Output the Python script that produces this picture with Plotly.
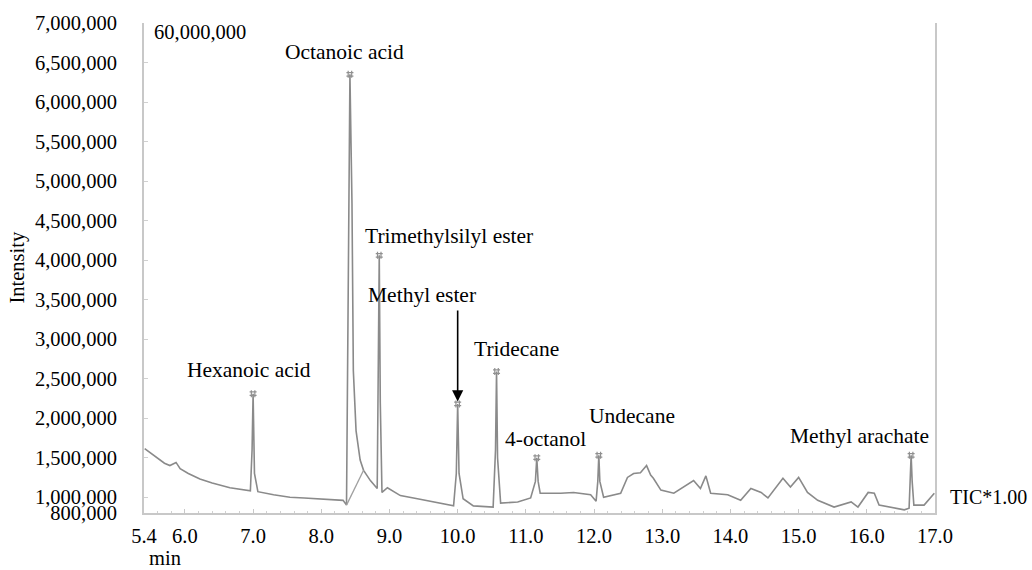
import plotly.graph_objects as go

# ---- data ----
time_min = [5.41, 5.50, 5.60, 5.70, 5.78, 5.87, 5.93, 6.05, 6.22, 6.40, 6.66, 6.85, 6.96, 6.985, 7.00, 7.02, 7.07,
            7.30, 7.54, 7.75, 7.98, 8.15, 8.32, 8.37, 8.40, 8.42, 8.45, 8.47, 8.51, 8.57, 8.62, 8.72, 8.82, 8.835, 8.85,
            8.865, 8.89, 8.97, 9.16, 9.41, 9.64, 9.94, 9.98, 10.00, 10.02, 10.08, 10.23, 10.44, 10.52, 10.555, 10.57,
            10.585, 10.63, 10.88, 11.07, 11.14, 11.16, 11.18, 11.21, 11.51, 11.70, 11.95, 12.03, 12.055, 12.07, 12.085,
            12.14, 12.39, 12.49, 12.58, 12.68, 12.77, 12.83, 12.87, 12.98, 13.17, 13.31, 13.46, 13.56, 13.64, 13.71,
            13.96, 14.15, 14.30, 14.45, 14.55, 14.77, 14.88, 15.00, 15.13, 15.28, 15.52, 15.77, 15.87, 16.02, 16.11,
            16.18, 16.35, 16.55, 16.62, 16.635, 16.65, 16.665, 16.69, 16.84, 16.99]
intensity = [1.615e6, 1.56e6, 1.49e6, 1.43e6, 1.40e6, 1.44e6, 1.36e6, 1.30e6, 1.23e6, 1.18e6, 1.12e6, 1.10e6, 1.08e6,
             1.6e6, 2.31e6, 1.3e6, 1.07e6,
             1.03e6, 1.00e6, 0.99e6, 0.975e6, 0.97e6, 0.96e6, 0.90e6, 5.0e6, 6.35e6, 4.72e6, 2.60e6, 1.84e6, 1.47e6,
             1.34e6, 1.21e6, 1.11e6, 2.5e6, 4.06e6,
             2.2e6, 1.06e6, 1.12e6, 1.02e6, 0.98e6, 0.94e6, 0.89e6, 1.3e6, 2.18e6, 1.3e6, 0.98e6, 0.89e6, 0.875e6,
             0.875e6, 1.6e6, 2.59e6,
             1.5e6, 0.925e6, 0.94e6, 0.99e6, 1.2e6, 1.50e6, 1.2e6, 1.05e6, 1.05e6, 1.06e6, 1.03e6, 0.95e6, 1.2e6,
             1.53e6, 1.2e6,
             1.00e6, 1.05e6, 1.25e6, 1.30e6, 1.31e6, 1.40e6, 1.28e6, 1.24e6, 1.09e6, 1.05e6, 1.13e6, 1.21e6, 1.11e6,
             1.27e6, 1.05e6,
             1.03e6, 0.96e6, 1.11e6, 1.06e6, 0.99e6, 1.24e6, 1.13e6, 1.25e6, 1.06e6, 0.96e6, 0.875e6, 0.94e6, 0.875e6,
             1.06e6, 1.05e6,
             0.90e6, 0.875e6, 0.84e6, 0.86e6, 1.2e6, 1.53e6, 1.2e6, 0.90e6, 0.90e6, 1.05e6]

# integration baseline drawn under the octanoic acid tail
ramp_time = [8.37, 8.62]
ramp_intensity = [0.90e6, 1.34e6]

# peak apex positions
apex_time = [7.00, 8.42, 8.85, 10.00, 10.57, 11.16, 12.07, 16.65]
apex_intensity = [2.31e6, 6.35e6, 4.06e6, 2.18e6, 2.59e6, 1.50e6, 1.53e6, 1.53e6]

# peak labels
label_text = ["Hexanoic acid", "Octanoic acid", "Trimethylsilyl ester", "Methyl ester", "Tridecane",
              "4-octanol", "Undecane", "Methyl arachate"]
label_time = [6.00, 8.34, 8.61, 8.65, 10.21, 10.66, 11.90, 14.84]
label_intensity = [2.605e6, 6.63e6, 4.31e6, 3.557e6, 2.87e6, 1.74e6, 2.03e6, 1.777e6]
label_anchor = ["left", "center", "left", "left", "left", "left", "left", "left"]

# arrow pointing to methyl ester
arrow_time = 10.00
arrow_from = 3.38e6
arrow_to = 2.21e6

# axes
x_tickvals = [5.4, 6.0, 7.0, 8.0, 9.0, 10.0, 11.0, 12.0, 13.0, 14.0, 15.0, 16.0, 17.0]
x_ticktext = ["5.4", "6.0", "7.0", "8.0", "9.0", "10.0", "11.0", "12.0", "13.0", "14.0", "15.0", "16.0", "17.0"]
y_tickvals = [800000, 1000000, 1500000, 2000000, 2500000, 3000000, 3500000, 4000000, 4500000, 5000000,
              5500000, 6000000, 6500000, 7000000]
y_ticktext = ["800,000", "1,000,000", "1,500,000", "2,000,000", "2,500,000", "3,000,000", "3,500,000",
              "4,000,000", "4,500,000", "5,000,000", "5,500,000", "6,000,000", "6,500,000", "7,000,000"]

FONT = "Liberation Serif, Times New Roman, serif"
GRAY = "#8a8a8a"
LABEL_SIZE = 21.5
TICK_SIZE = 20.5

fig = go.Figure()
fig.add_trace(go.Scatter(x=time_min, y=intensity, mode="lines",
                         line=dict(color=GRAY, width=1.6), hoverinfo="skip"))
fig.add_trace(go.Scatter(x=ramp_time, y=ramp_intensity, mode="lines",
                         line=dict(color="#a0a0a0", width=1.3), hoverinfo="skip"))
fig.add_trace(go.Scatter(x=apex_time, y=apex_intensity, mode="markers",
                         marker=dict(symbol="hash-open", size=7, color="#909090",
                                     line=dict(color="#909090", width=1.2)),
                         hoverinfo="skip"))

for txt, tx, ty, anc in zip(label_text, label_time, label_intensity, label_anchor):
    fig.add_annotation(x=tx, y=ty, text=txt, showarrow=False, xanchor=anc, yanchor="middle",
                       font=dict(family=FONT, size=LABEL_SIZE, color="black"))

fig.add_annotation(x=arrow_time, y=arrow_to, ax=arrow_time, ay=arrow_from, axref="x", ayref="y",
                   text="", showarrow=True, arrowhead=2, arrowsize=1.4, arrowwidth=1.6,
                   arrowcolor="black")

fig.add_annotation(x=5.52, y=6.89e6, text="60,000,000", showarrow=False, xanchor="left", yanchor="middle",
                   font=dict(family=FONT, size=TICK_SIZE, color="black"))
fig.add_annotation(xref="paper", yref="paper", x=(948 - 144) / 791, y=(513 - 497) / 495,
                   text="TIC*1.00", showarrow=False, xanchor="left", yanchor="middle",
                   font=dict(family=FONT, size=20, color="black"))
fig.add_annotation(xref="paper", yref="paper", x=(165 - 144) / 791, y=-(558 - 513) / 495,
                   text="min", showarrow=False, xanchor="center", yanchor="middle",
                   font=dict(family=FONT, size=TICK_SIZE, color="black"))
fig.add_annotation(xref="paper", yref="paper", x=(18 - 144) / 791, y=(513 - 265) / 495,
                   text="Intensity", showarrow=False, xanchor="center", yanchor="middle", textangle=-90,
                   font=dict(family=FONT, size=TICK_SIZE, color="black"))

fig.update_layout(
    width=1032, height=570,
    margin=dict(l=144, r=97, t=18, b=57),
    paper_bgcolor="white", plot_bgcolor="white",
    showlegend=False,
    font=dict(family=FONT, size=TICK_SIZE, color="black"),
)
fig.update_xaxes(range=[5.4, 17.0], tickvals=x_tickvals, ticktext=x_ticktext,
                 showgrid=False, zeroline=False, showline=True, linecolor="#c8c8c8", linewidth=2,
                 ticks="inside", ticklen=4, tickcolor="#c8c8c8",
                 minor=dict(ticks="inside", ticklen=2, dtick=0.2, tickcolor="#d0d0d0"),
                 ticklabelstandoff=3, tickfont=dict(family=FONT, size=TICK_SIZE, color="black"))
fig.update_yaxes(range=[800000, 7000000], tickvals=y_tickvals, ticktext=y_ticktext,
                 showgrid=False, zeroline=False, showline=True, linecolor="#c8c8c8", linewidth=2, mirror=True,
                 ticks="inside", ticklen=4, tickcolor="#d0d0d0",
                 ticklabelstandoff=21, tickfont=dict(family=FONT, size=TICK_SIZE, color="black"))

fig.write_html("out.html", config={"displayModeBar": False},
               post_script="document.body.style.margin='0';document.body.style.overflow='hidden';")
